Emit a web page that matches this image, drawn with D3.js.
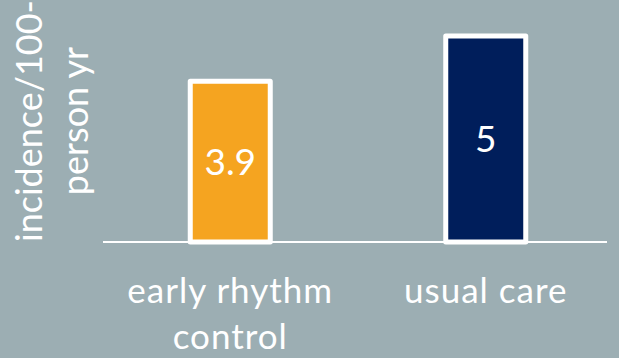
<!DOCTYPE html>
<html>
<head>
<meta charset="utf-8">
<script src="https://cdn.jsdelivr.net/npm/d3@7"></script>
<style>
  html, body { margin: 0; padding: 0; background: #9caeb3; }
  svg { display: block; }
  text { font-family: Lato, "Open Sans", sans-serif; fill: #ffffff; }
</style>
</head>
<body>
<svg width="619" height="358"></svg>
<script>
// Data
const categories = ['early rhythm control', 'usual care'];
const categoryLines = [['early rhythm', 'control'], ['usual care']];
const values = [3.9, 5];
const valueLabels = ['3.9', '5'];
const barColors = ['#f5a420', '#001e5b'];
const yLabelLines = ['incidence/100-', 'person yr'];

(function (d3) {
  'use strict';

  const svg = d3.select('svg');

  const data = categories.map((c, i) => ({
    category: c,
    value: values[i],
    label: valueLabels[i],
    lines: categoryLines[i],
    color: barColors[i]
  }));

  // Baseline sits at y=242, bars go from x~103 to ~607
  const baseY = 242;
  const barWidth = 80;

  const xScale = d3.scaleBand()
    .domain(categories)
    .range([102.5, 613.5])
    .padding(0);

  const yScale = d3.scaleLinear()
    .domain([0, 5])
    .range([baseY, 36]);

  const xMid = d => xScale(d) + xScale.bandwidth() / 2;

  const g = svg.append('g');

  // Bars with white outline
  g.selectAll('rect.bar').data(data)
    .enter().append('rect')
      .attr('class', 'bar')
      .attr('x', d => xMid(d.category) - barWidth / 2)
      .attr('y', d => yScale(d.value))
      .attr('width', barWidth)
      .attr('height', d => yScale(0) - yScale(d.value))
      .attr('fill', d => d.color)
      .attr('stroke', '#ffffff')
      .attr('stroke-width', 5)
      .attr('stroke-linejoin', 'round');

  // Baseline
  g.append('line')
    .attr('x1', 103)
    .attr('x2', 607)
    .attr('y1', baseY)
    .attr('y2', baseY)
    .attr('stroke', '#ffffff')
    .attr('stroke-width', 2);

  // Value labels centered inside the bars
  g.selectAll('text.value').data(data)
    .enter().append('text')
      .attr('class', 'value')
      .attr('x', d => xMid(d.category))
      .attr('y', d => (yScale(d.value) + yScale(0)) / 2)
      .attr('dy', '0.36em')
      .attr('text-anchor', 'middle')
      .attr('font-size', 37)
      .text(d => d.label);

  // Category labels under the baseline
  const catText = g.selectAll('text.cat').data(data)
    .enter().append('text')
      .attr('class', 'cat')
      .attr('text-anchor', 'middle')
      .attr('font-size', 35)
      .attr('letter-spacing', 1)
      .attr('x', d => xMid(d.category))
      .attr('y', 303);

  catText.selectAll('tspan').data(d => d.lines.map(l => ({ line: l, x: xMid(d.category) })))
    .enter().append('tspan')
      .attr('x', d => d.x)
      .attr('dy', (d, i) => i === 0 ? 0 : 46)
      .text(d => d.line);

  // Rotated y-axis label, two lines
  const yLab = g.append('text')
    .attr('transform', 'translate(42,121) rotate(-90)')
    .attr('text-anchor', 'middle')
    .attr('font-size', 36);

  yLab.selectAll('tspan').data(yLabelLines)
    .enter().append('tspan')
      .attr('x', 0)
      .attr('dy', (d, i) => i === 0 ? 0 : 46)
      .text(d => d);

}(d3));
</script>
</body>
</html>
